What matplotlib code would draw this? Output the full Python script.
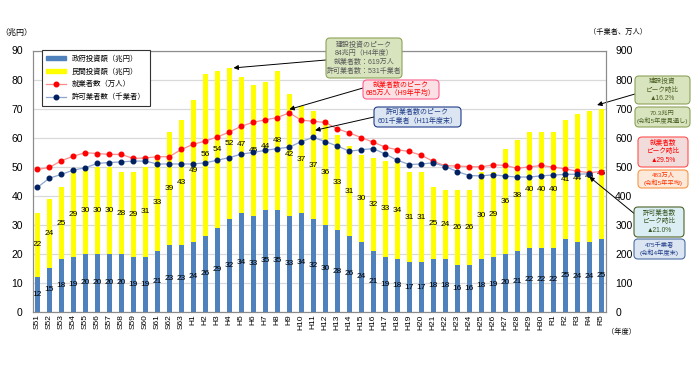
import numpy as np
import matplotlib
matplotlib.use('Agg')
import matplotlib.pyplot as plt
from matplotlib.patches import FancyBboxPatch, Patch
from matplotlib.lines import Line2D

plt.rcParams['font.family'] = ['Liberation Sans', 'Noto Sans CJK JP']

# 年度
years = ['S51', 'S52', 'S53', 'S54', 'S55', 'S56', 'S57', 'S58', 'S59', 'S60', 'S61', 'S62', 'S63'] + \
        ['H%d' % i for i in range(1, 31)] + ['R1', 'R2', 'R3', 'R4', 'R5']

# 政府投資額 / 民間投資額 (兆円)
gov = [12, 15, 18, 19, 20, 20, 20, 20, 19, 19, 21, 23, 23,
       24, 26, 29, 32, 34, 33, 35, 35, 33, 34, 32, 30, 28, 26, 24, 21, 19, 18, 17, 17, 18, 18, 16, 16,
       18, 19, 20, 21, 22, 22,
       22, 25, 24, 24, 25]
priv = [22, 24, 25, 29, 30, 30, 30, 28, 29, 31, 33, 39, 43,
        49, 56, 54, 52, 47, 45, 44, 48, 42, 37, 37, 36, 33, 31, 30, 32, 33, 34, 31, 31, 25, 24, 26, 26,
        30, 29, 36, 38, 40, 40,
        40, 41, 44, 45, 45]

# 就業者数 (万人)
workers = [490, 497, 520, 536, 548, 545, 542, 542, 528, 530, 534, 534, 559,
           577, 588, 602, 619, 639, 653, 661, 669, 685, 660, 656, 652, 630, 616, 600, 584, 567, 558, 552, 539,
           518, 503, 502, 500, 499, 506, 504, 494, 499, 504,
           498, 492, 484, 479, 483]

# 許可業者数 (千業者)  R5 no data
permits = [428, 460, 473, 488, 496, 511, 514, 516, 519, 519, 509, 509, 509,
           509, 513, 522, 531, 543, 549, 556, 562, 567, 586, 601, 586, 571, 553, 558, 562, 543, 522, 507, 509,
           513, 500, 483, 469, 468, 472, 467, 464, 464, 468,
           471, 473, 474, 475, np.nan]

x = np.arange(len(years))
gov = np.array(gov)
priv = np.array(priv)

fig = plt.figure(figsize=(6.98, 3.65), dpi=100)
ax = fig.add_axes([32.5 / 698, 1 - 311.7 / 365, 573 / 698, 261.2 / 365])
ax2 = ax.twinx()

bw = 0.4
ax.bar(x, gov, bw, color='#4F81BD', zorder=2)
ax.bar(x, priv, bw, bottom=gov, color='#FFFF00', zorder=2)
for i in range(len(x)):
    ax.text(x[i], gov[i] / 2, str(gov[i]), ha='center', va='center', fontsize=6, zorder=3)
    ax.text(x[i], gov[i] + priv[i] / 2, str(priv[i]), ha='center', va='center', fontsize=6, zorder=3)

ax2.plot(x, workers, color='#FF8C8C', lw=0.9, marker='o', ms=3.3, mfc='#FF0000', mec='#FF0000')
ax2.plot(x, permits, color='#8FA5CF', lw=0.9, marker='o', ms=3.3, mfc='#002060', mec='#002060')

ax.set_xlim(-0.4, len(x) - 0.65)
ax.set_ylim(0, 90)
ax2.set_ylim(0, 900)
ax.set_yticks(range(0, 91, 10))
ax2.set_yticks(range(0, 901, 100))
ax.set_xticks(x)
ax.set_xticklabels(years, rotation=90, fontsize=6)
ax.tick_params(axis='x', length=0, pad=2)
ax.tick_params(axis='y', length=0, pad=7, labelsize=7.5)
ax2.tick_params(axis='y', length=0, pad=7, labelsize=7.5)
ax.yaxis.grid(True, color='#D9D9D9', lw=0.9)
ax.set_axisbelow(True)
for a in (ax, ax2):
    for s in a.spines.values():
        s.set_color('#8C8C8C')
        s.set_linewidth(0.8)

handles = [Patch(color='#4F81BD'), Patch(color='#FFFF00'),
           Line2D([], [], color='#FF8C8C', lw=0.9, marker='o', ms=3.3, mfc='#FF0000', mec='#FF0000'),
           Line2D([], [], color='#8FA5CF', lw=0.9, marker='o', ms=3.3, mfc='#002060', mec='#002060')]
labels = ['政府投資額（兆円）', '民間投資額（兆円）', '就業者数（万人）', '許可業者数（千業者）']
leg = ax2.legend(handles, labels, loc='upper left', bbox_to_anchor=(0.0166, 1.0), borderaxespad=0,
                 fontsize=5.3, fancybox=False, framealpha=1, edgecolor='#333333',
                 handlelength=2.6, handleheight=0.5, labelspacing=0.75, borderpad=0.6)
leg.get_frame().set_linewidth(0.8)

fig.text(0.0, (365 - 33) / 365, '（兆円）', fontsize=5.8, ha='left', va='center')
fig.text(618 / 698, (365 - 32) / 365, '（千業者、万人）', fontsize=5.2, ha='center', va='center')
fig.text(622 / 698, (365 - 332) / 365, '（年度）', fontsize=5.2, ha='center', va='center')


def px(xp, yp):
    return xp / 100, (365 - yp) / 100


def box(x0, y0, x1, y1, s, fc, ec, tc, fs=5):
    a, b = px(x0, y1)
    c, d = px(x1, y0)
    fig.add_artist(FancyBboxPatch((a, b), c - a, d - b, boxstyle='round,pad=0,rounding_size=0.04',
                                  transform=fig.dpi_scale_trans, fc=fc, ec=ec, lw=0.8))
    fig.text((a + c) / 2, (b + d) / 2, s, transform=fig.dpi_scale_trans, ha='center', va='center',
             color=tc, fontsize=fs, linespacing=1.3)


def arrow(a, xy, start):
    a.annotate('', xy=xy, xytext=px(*start), textcoords=fig.dpi_scale_trans,
               arrowprops=dict(arrowstyle='-|>', color='black', lw=0.7, mutation_scale=7,
                               shrinkA=0, shrinkB=0))


i4 = years.index('H4')
i9 = years.index('H9')
i11 = years.index('H11')
n = len(x) - 1

arrow(ax, (i4 + 0.35, gov[i4] + priv[i4]), (326, 60))
arrow(ax2, (i9, workers[i9] + 12), (363, 88))
arrow(ax2, (i11 + 0.15, permits[i11] + 24), (374, 117))
arrow(ax, (n - 0.35, gov[n] + priv[n] + 1.2), (635, 94))
arrow(ax2, (n + 0.45, workers[n]), (638, 171))
arrow(ax2, (n - 1, permits[n - 1] - 10), (636, 215))

box(326, 38, 402, 78, '建設投資のピーク\n84兆円（H4年度）\n就業者数：619万人\n許可業者数：531千業者',
    '#D7E4BD', '#8FA35A', '#595959')
box(363, 80, 439, 99, '就業者数のピーク\n685万人（H9年平均）', '#FBE1E6', '#FF5C8D', '#FF0000')
box(374, 107, 461, 127, '許可業者数のピーク\n601千業者（H11年度末）', '#DCE6F2', '#1F3C88', '#1F3C88')

box(635, 76, 690, 104, '建設投資\nピーク時比\n▲16.2%', '#D7E4BD', '#8FA35A', '#4F6228', fs=4.8)
box(635, 107, 690, 127, '70.3兆円\n(令和5年度見通し)', '#D7E4BD', '#8FA35A', '#4F6228', fs=4.5)
box(638, 137, 688, 167, '就業者数\nピーク時比\n▲29.5%', '#F2DCDB', '#FF5050', '#FF0000', fs=4.8)
box(638, 170, 688, 188, '483万人\n(令和5年平均)', '#FDE9D9', '#F79646', '#FF3300', fs=4.5)
box(634, 207, 684, 237, '許可業者数\nピーク時比\n▲21.0%', '#DAEEF3', '#4F6228', '#375623', fs=4.8)
box(634, 239, 685, 259, '475千業者\n(令和4年度末)', '#DCE6F2', '#4A6FA5', '#1F3C88', fs=4.5)

fig.savefig('out.png', dpi=100)
